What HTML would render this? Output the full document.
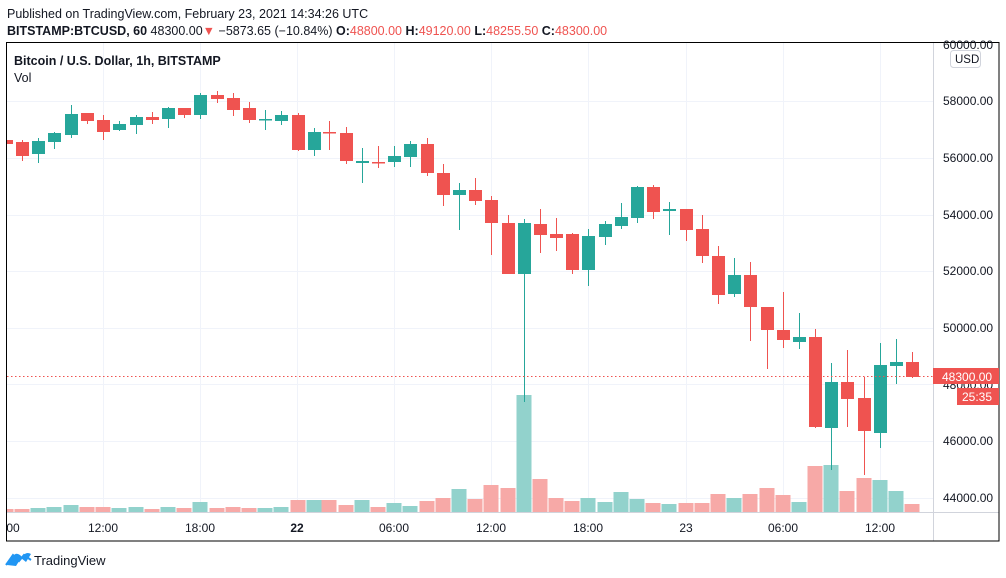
<!DOCTYPE html>
<html><head><meta charset="utf-8">
<style>
html,body{margin:0;padding:0;background:#fff;}
body{width:1006px;height:578px;overflow:hidden;position:relative;font-family:"Liberation Sans",sans-serif;}
svg{position:absolute;left:0;top:0;}
</style></head>
<body>
<svg id="s" width="1006" height="578" xmlns="http://www.w3.org/2000/svg" font-family="Liberation Sans, sans-serif">
<text x="7" y="18" font-size="12.5" fill="#131722">Published on TradingView.com, February 23, 2021 14:34:26 UTC</text>
<text x="7" y="35" font-size="12.5" fill="#131722"><tspan font-weight="bold">BITSTAMP:BTCUSD, 60</tspan> 48300.00<tspan fill="#ef5350">▼</tspan> −5873.65 (−10.84%) <tspan font-weight="bold">O:</tspan><tspan fill="#ef5350">48800.00</tspan> <tspan font-weight="bold">H:</tspan><tspan fill="#ef5350">49120.00</tspan> <tspan font-weight="bold">L:</tspan><tspan fill="#ef5350">48255.50</tspan> <tspan font-weight="bold">C:</tspan><tspan fill="#ef5350">48300.00</tspan></text>
<g id="grid" stroke="#f0f3fa" stroke-width="1"></g>
<g id="vol"></g>
<g id="cnd"></g>
<line x1="7" y1="376.5" x2="933" y2="376.5" stroke="#ef5350" stroke-dasharray="1.5,2.5"/>
<line x1="933.5" y1="42" x2="933.5" y2="541" stroke="#d1d4dc"/>
<line x1="7" y1="512.5" x2="999" y2="512.5" stroke="#d1d4dc"/>
<rect x="6.5" y="42.5" width="992.5" height="498.5" fill="none" stroke="#000"/>
<text x="14" y="65" font-size="12.5" font-weight="bold" fill="#131722">Bitcoin / U.S. Dollar, 1h, BITSTAMP</text>
<text x="14" y="82" font-size="12.5" fill="#131722">Vol</text>
<g font-size="12" fill="#131722">
<text x="943" y="49">60000.00</text>
<text x="943" y="105">58000.00</text>
<text x="943" y="162">56000.00</text>
<text x="943" y="219">54000.00</text>
<text x="943" y="275">52000.00</text>
<text x="943" y="332">50000.00</text>
<text x="943" y="389">48000.00</text>
<text x="943" y="445">46000.00</text>
<text x="943" y="502">44000.00</text>
</g>
<rect x="950.5" y="50.5" width="30" height="17" rx="3" fill="#fff" stroke="#d1d4dc"/>
<text x="955" y="63" font-size="11.5" fill="#131722">USD</text>
<rect x="933" y="368" width="66" height="16" fill="#ef5350"/>
<text x="942" y="381" font-size="12" fill="#fff">48300.00</text>
<rect x="957" y="388" width="42" height="17" fill="#ef5350"/>
<text x="962" y="401" font-size="12" fill="#fff">25:35</text>
<g font-size="12" fill="#131722" text-anchor="middle">
<text x="13" y="532">00</text>
<text x="103" y="532">12:00</text>
<text x="200" y="532">18:00</text>
<text x="297" y="532" font-weight="bold">22</text>
<text x="394" y="532">06:00</text>
<text x="491" y="532">12:00</text>
<text x="588" y="532">18:00</text>
<text x="686" y="532">23</text>
<text x="783" y="532">06:00</text>
<text x="880" y="532">12:00</text>
</g>
<path d="M7 565 L13 556 Q16 552 20 555 L22 557 Q26 551 31 554 L26 562 L21 558 L16 566 Z" fill="#2196f3"/>
<path d="M6 565 L13 555 L19 561 L24 555 L31 560" fill="none" stroke="#2196f3" stroke-width="2"/>
<text x="34" y="565" font-size="13" fill="#131722">TradingView</text>
</svg>
<script>
var NS="http://www.w3.org/2000/svg";
function el(p,t,a){var e=document.createElementNS(NS,t);for(var k in a)e.setAttribute(k,a[k]);document.getElementById(p).appendChild(e);}
[101,158,215,271,328,384,441,498].forEach(function(y){el("grid","line",{x1:7,x2:933,y1:y+.5,y2:y+.5});});
[103,200,297,394,491,588,686,783,880].forEach(function(x){el("grid","line",{x1:x+.5,x2:x+.5,y1:43,y2:512});});
var d=[
[6,140,144,139,145,'r',509],[22,142,156,140,161,'r',509],[38,141,154,138,163,'g',508],[54,133,142,132,149,'g',507],
[71,114,135,105,138,'g',505],[87,113,121,113,124,'r',507],[103,120,132,115,140,'r',507],[119,124,130,121,131,'g',508],
[136,117,125,115,134,'g',507],[152,117,120,112,124,'r',509],[168,108,119,107,128,'g',507],[184,108,115,108,118,'r',508],
[200,95,115,93,119,'g',502],[217,95,99,91,103,'r',508],[233,98,110,93,116,'r',507],[249,108,120,102,123,'r',508],
[265,119,120,110,130,'g',508],[281,115,121,111,125,'g',507],[298,115,150,113,151,'r',500],[314,132,150,128,156,'g',500],
[329,132,133,121,150,'r',500],[346,133,161,127,164,'r',505],[362,161,163,148,183,'g',500],[378,162,163,146,168,'r',507],
[394,156,162,146,167,'g',503],[410,144,157,141,167,'g',506],[427,144,173,138,176,'r',501],[443,173,195,164,206,'r',498],
[459,190,195,183,230,'g',489],[475,190,201,178,205,'r',499],[491,200,223,196,255,'r',485],[508,223,274,215,274,'r',488],
[524,223,274,219,402,'g',395],[540,224,235,209,253,'r',479],[556,234,238,218,251,'r',498],[572,234,270,233,274,'r',501],
[588,236,270,229,286,'g',498],[605,224,237,221,245,'g',502],[621,217,226,203,229,'g',492],[637,187,218,186,223,'g',499],
[653,187,212,185,219,'r',503],[669,209,211,202,235,'g',504],[686,209,230,209,241,'r',503],[702,229,256,215,263,'r',503],
[718,256,295,246,304,'r',494],[734,275,294,258,297,'g',498],[750,275,307,262,341,'r',494],[767,307,330,307,369,'r',488],
[783,330,340,292,348,'r',495],[799,337,342,313,349,'g',502],[815,337,427,329,428,'r',466],[831,382,428,363,470,'g',465],
[847,382,399,350,427,'r',491],[864,398,431,377,475,'r',478],[880,365,433,343,448,'g',480],[896,362,366,339,384,'g',491],
[912,362,377,352,378,'r',504]];
d.forEach(function(c){
 var g=c[5]=='g',col=g?'#26a69a':'#ef5350',vc=g?'#92d2cc':'#f7a9a7';
 var vx=Math.max(7,c[0]-7.5);
 el("vol","rect",{x:vx,y:c[6],width:c[0]+7.5-vx,height:512-c[6],fill:vc});
 el("cnd","rect",{x:c[0],y:c[3],width:1,height:c[4]-c[3],fill:col});
 var bx=Math.max(7,c[0]-6);
 el("cnd","rect",{x:bx,y:c[1],width:c[0]+7-bx,height:Math.max(1.5,c[2]-c[1]),fill:col});
});
</script>
</body></html>
